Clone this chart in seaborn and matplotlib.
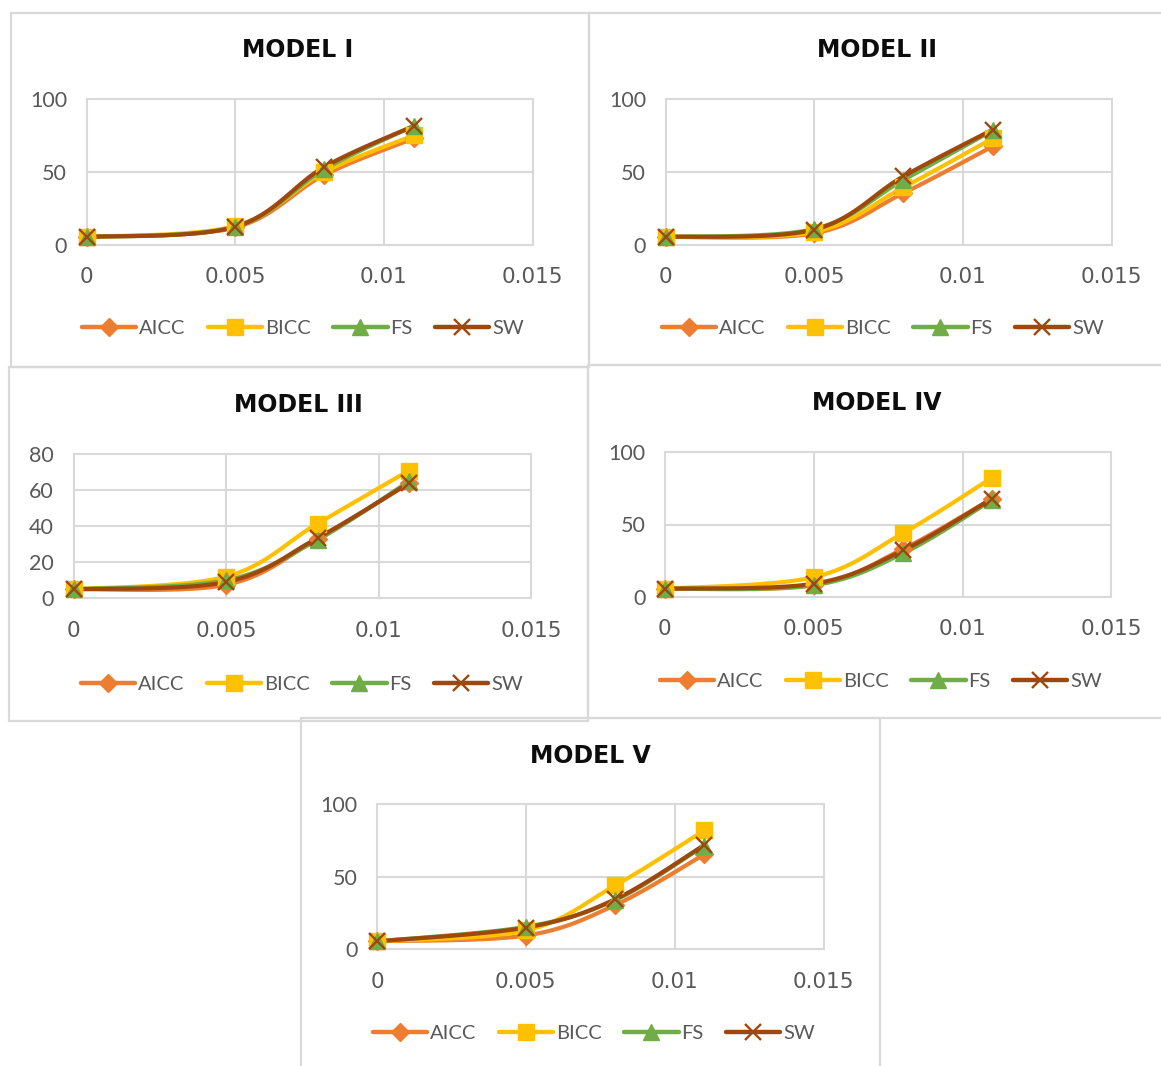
import numpy as np
import pandas as pd
import matplotlib
matplotlib.use("Agg")
import matplotlib.pyplot as plt
from matplotlib.lines import Line2D
from matplotlib.patches import Rectangle
import seaborn as sns

sns.set_theme(style="white")
plt.rcParams['font.family'] = ['Lato', 'DejaVu Sans']

# ---------------- data ----------------
x_vals = [0, 0.005, 0.008, 0.011]
series_names = ["AICC", "BICC", "FS", "SW"]
titles = ["MODEL I", "MODEL II", "MODEL III", "MODEL IV", "MODEL V"]

m1_aicc = [5.5, 12, 48, 73]
m1_bicc = [5.5, 13, 50, 75]
m1_fs = [5.5, 12.5, 52, 81.5]
m1_sw = [5.5, 12.5, 53.5, 81.5]

m2_aicc = [5.5, 8, 35.5, 67.5]
m2_bicc = [5.5, 9, 39.5, 73]
m2_fs = [5.5, 11, 44.5, 78.5]
m2_sw = [5.5, 10.5, 47, 79]

m3_aicc = [5, 7.5, 33, 64]
m3_bicc = [5, 12, 41.5, 71]
m3_fs = [5, 10, 32.5, 65]
m3_sw = [5, 9, 33.5, 64]

m4_aicc = [5.5, 8, 33, 68]
m4_bicc = [5.5, 13.5, 44, 82.5]
m4_fs = [5.5, 8, 30, 67]
m4_sw = [5.5, 9, 32, 68]

m5_aicc = [5.5, 9.5, 30.5, 65.5]
m5_bicc = [5.5, 13, 44, 82]
m5_fs = [5.5, 15.5, 34, 71.5]
m5_sw = [5.5, 15, 34.5, 72]

models = [
    [m1_aicc, m1_bicc, m1_fs, m1_sw],
    [m2_aicc, m2_bicc, m2_fs, m2_sw],
    [m3_aicc, m3_bicc, m3_fs, m3_sw],
    [m4_aicc, m4_bicc, m4_fs, m4_sw],
    [m5_aicc, m5_bicc, m5_fs, m5_sw],
]
y_maxes = [100, 100, 80, 100, 100]
y_steps = [50, 50, 20, 50, 50]
x_ticks = [0, 0.005, 0.01, 0.015]
x_tick_labels = ["0", "0.005", "0.01", "0.015"]

# ---------------- style ----------------
colors = {"AICC": "#ED7D31", "BICC": "#FFC000", "FS": "#70AD47", "SW": "#9E480E"}
markers = {"AICC": "D", "BICC": "s", "FS": "^", "SW": "x"}
msizes = {"AICC": 9.5, "BICC": 11.5, "FS": 11.5, "SW": 11}

W, H = 1161, 1066
fig = plt.figure(figsize=(W / 100, H / 100), dpi=100)
fig.patch.set_facecolor("white")

# pixel layouts: plot area (l, t, r, b), title (cx, cy), legend (cx, cy), border (l, t, r, b)
layouts = [
    dict(plot=(86.5, 99, 532.5, 245), title=(298, 50), leg=(303, 328), border=(11, 13, 589, 367)),
    dict(plot=(665.5, 99, 1111.5, 245), title=(877, 50), leg=(883, 328), border=(589, 13, 1175, 365)),
    dict(plot=(73.5, 454.3, 531, 598.3), title=(298, 405), leg=(302, 684), border=(9, 367, 588, 721)),
    dict(plot=(664.7, 452.3, 1111.4, 596.7), title=(877, 403), leg=(881, 681), border=(588, 365, 1175, 718)),
    dict(plot=(377, 804.3, 823.5, 949.3), title=(590, 756), leg=(594, 1033), border=(301, 718, 880, 1080)),
]


def smooth(xs, ys, xr, yr, n=40):
    """Excel-like smoothed curve (Bezier, Catmull-Rom style control points)."""
    P = np.column_stack([np.asarray(xs, float) / xr, np.asarray(ys, float) / yr])
    m = len(P)
    out = []
    for i in range(m - 1):
        p0 = P[i - 1] if i > 0 else P[i]
        p1 = P[i]
        p2 = P[i + 1]
        p3 = P[i + 2] if i + 2 < m else P[i + 1]
        c1 = p1 + (p2 - p0) / 6.0
        c2 = p2 - (p3 - p1) / 6.0
        t = np.linspace(0, 1, n)[:, None]
        seg = ((1 - t) ** 3) * p1 + 3 * ((1 - t) ** 2) * t * c1 + 3 * (1 - t) * t ** 2 * c2 + t ** 3 * p2
        if i > 0:
            seg = seg[1:]
        out.append(seg)
    out = np.vstack(out)
    return out[:, 0] * xr, out[:, 1] * yr


for k, lay in enumerate(layouts):
    # panel border
    bl, bt, br, bb = lay["border"]
    fig.patches.append(Rectangle((bl / W, 1 - bb / H), (br - bl) / W, (bb - bt) / H,
                                 transform=fig.transFigure, fill=False,
                                 edgecolor="#D9D9D9", linewidth=1.6, zorder=0))
    l, t, r, b = lay["plot"]
    ax = fig.add_axes([l / W, 1 - b / H, (r - l) / W, (b - t) / H])
    ax.set_facecolor("white")
    ymax = y_maxes[k]
    for name, ys in zip(series_names, models[k]):
        sx, sy = smooth(x_vals, ys, 0.015, ymax)
        df = pd.DataFrame({"x": sx, "y": sy})
        sns.lineplot(data=df, x="x", y="y", ax=ax, color=colors[name], linewidth=3.0,
                     sort=False, estimator=None, zorder=3, legend=False)
        if markers[name] == "x":
            ax.plot(x_vals, ys, linestyle="none", marker="x", markersize=msizes[name],
                    markeredgewidth=1.7, color=colors[name], zorder=4, clip_on=False)
        else:
            ax.plot(x_vals, ys, linestyle="none", marker=markers[name], markersize=msizes[name],
                    markerfacecolor=colors[name], markeredgecolor=colors[name], zorder=4,
                    clip_on=False)
    ax.set_xlim(0, 0.015)
    ax.set_ylim(0, ymax)
    ax.set_xticks(x_ticks)
    ax.set_xticklabels(x_tick_labels, fontfamily="DejaVu Sans", fontsize=15.5, color="#595959")
    yt = np.arange(0, ymax + 1, y_steps[k])
    ax.set_yticks(yt)
    ax.set_yticklabels([str(int(v)) for v in yt], fontsize=15.5, color="#595959")
    ax.tick_params(axis="x", length=0, pad=16)
    ax.tick_params(axis="y", length=0, pad=14)
    ax.grid(True, color="#D9D9D9", linewidth=1.5)
    ax.set_axisbelow(True)
    for s in ax.spines.values():
        s.set_visible(False)
    ax.set_xlabel("")
    ax.set_ylabel("")
    for line in ax.get_xgridlines() + ax.get_ygridlines():
        line.set_clip_on(False)

    tx, ty = lay["title"]
    fig.text(tx / W, 1 - ty / H, titles[k], ha="center", va="center",
             fontfamily="DejaVu Sans", fontweight="bold", fontsize=17, color="#0D0D0D")

    handles = []
    for name in series_names:
        if markers[name] == "x":
            h = Line2D([0], [0], color=colors[name], linewidth=3.2, marker="x",
                       markersize=msizes[name], markeredgewidth=1.7)
        else:
            h = Line2D([0], [0], color=colors[name], linewidth=3.2, marker=markers[name],
                       markersize=msizes[name], markerfacecolor=colors[name],
                       markeredgecolor=colors[name])
        handles.append(h)
    lx, ly = lay["leg"]
    leg = fig.legend(handles, series_names, loc="center", bbox_to_anchor=(lx / W, 1 - ly / H),
                     ncol=4, frameon=False, fontsize=14.5, handlelength=2.7,
                     handletextpad=0.15, columnspacing=1.1, borderaxespad=0)
    for txt in leg.get_texts():
        txt.set_color("#595959")

fig.savefig("out.png", dpi=100, facecolor="white")
